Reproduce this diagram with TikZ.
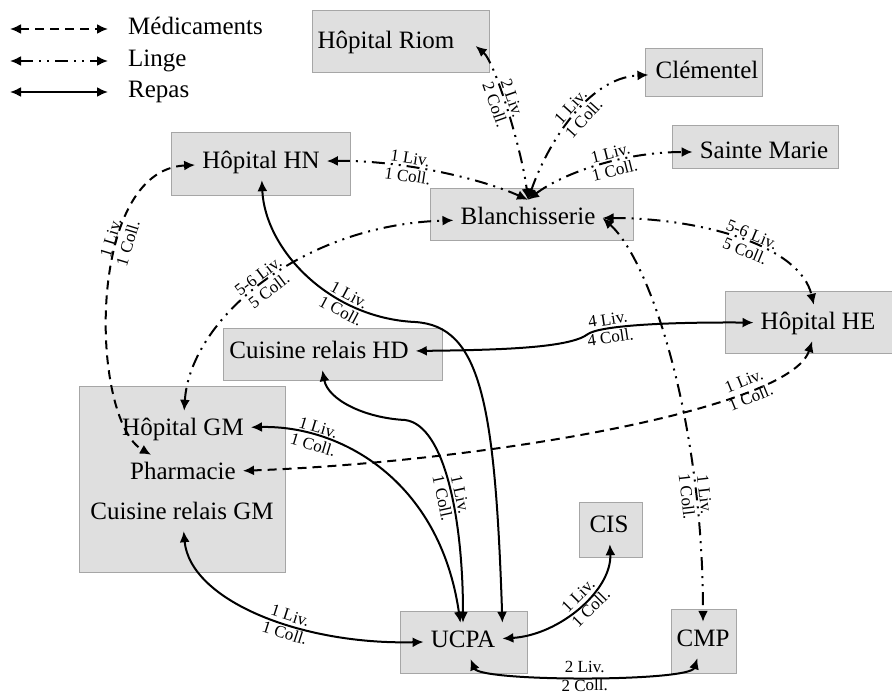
\documentclass[tikz,border=0pt]{standalone}
\usepackage{fontspec}
\setmainfont{Liberation Serif}
\usepackage{tikz}
\usetikzlibrary{arrows.meta}
\tikzset{
  boite/.style={draw=gray!70, fill=gray!25, line width=0.8pt, inner sep=0pt},
  txt/.style={inner sep=7pt, text height=17pt, text depth=5pt, font=\fontsize{25}{30}\selectfont},
  lien/.style={line width=2pt, {Latex[length=11pt,width=10pt]}-{Latex[length=11pt,width=10pt]}},
  medic/.style={lien, dash pattern=on 9pt off 6pt},
  linge/.style={lien, dash pattern=on 13pt off 6pt on 2pt off 6pt on 2pt off 6pt},
  repas/.style={lien},
  etiq/.style={sloped, inner sep=2pt, font=\fontsize{17}{19}\selectfont}
}
\begin{document}
\begin{tikzpicture}[x=1pt,y=-1pt]
  \useasboundingbox (0,0) rectangle (892,697);
  % legende
  \coordinate (m1) at (10,29);  \coordinate (m2) at (108,29);
  \coordinate (l1) at (10,61);  \coordinate (l2) at (108,61);
  \coordinate (r1) at (10,92);  \coordinate (r2) at (108,92);
  \node[txt, anchor=west] (lmed) at (121,28) {Médicaments};
  \node[txt, anchor=west] (llin) at (121,60) {Linge};
  \node[txt, anchor=west] (lrep) at (121,91) {Repas};
  \draw[medic] (m1) -- (m2);
  \draw[linge] (l1) -- (l2);
  \draw[repas] (r1) -- (r2);
  % boites
  \node[boite, minimum width=177pt, minimum height=62pt] (riomB) at (400.5,41) {};
  \node[boite, minimum width=117pt, minimum height=48pt] (clemB) at (703.5,72.5) {};
  \node[boite, minimum width=179pt, minimum height=63pt] (hnB) at (260.5,163.5) {};
  \node[boite, minimum width=166pt, minimum height=43pt] (smB) at (755,146.5) {};
  \node[boite, minimum width=203pt, minimum height=52pt] (blanchB) at (531.5,214) {};
  \node[boite, minimum width=167pt, minimum height=62pt] (heB) at (808.5,322) {};
  \node[boite, minimum width=219pt, minimum height=52pt] (hdB) at (332.5,354) {};
  \node[boite, minimum width=206pt, minimum height=186pt] (gmB) at (182,479) {};
  \node[boite, minimum width=63pt, minimum height=55pt] (cisB) at (610.5,529.5) {};
  \node[boite, minimum width=127pt, minimum height=62pt] (ucpaB) at (463.5,642) {};
  \node[boite, minimum width=65pt, minimum height=64pt] (cmpB) at (703.5,641) {};
  % textes
  \node[txt] (riom) at (386,42) {Hôpital Riom};
  \node[txt] (clem) at (707,72) {Clémentel};
  \node[txt] (hn) at (261,162) {Hôpital HN};
  \node[txt] (sm) at (764,152) {Sainte Marie};
  \node[txt] (blanch) at (528,218) {Blanchisserie};
  \node[txt] (he) at (818,323) {Hôpital HE};
  \node[txt] (hd) at (319,352) {Cuisine relais HD};
  \node[txt] (hgm) at (183,429) {Hôpital GM};
  \node[txt] (pharma) at (183,473) {Pharmacie};
  \node[txt] (crgm) at (182,513) {Cuisine relais GM};
  \node[txt] (cis) at (609,526) {CIS};
  \node[txt] (ucpa) at (463,641) {UCPA};
  \node[txt] (cmp) at (703,640) {CMP};
  % medicaments
  \draw[medic] (hn) .. controls (85,170) and (90,420) .. (pharma)
    node[etiq, pos=.35, above] {1 Liv.} node[etiq, pos=.35, below] {1 Coll.};
  \draw[medic] (he) .. controls (790,410) and (480,462) .. (pharma)
    node[etiq, pos=.25, above] {1 Liv.} node[etiq, pos=.25, below] {1 Coll.};
  % linge
  \draw[linge] ([xshift=14pt,yshift=-4pt]riom.east) .. controls (495,62) and (522,150) .. (blanch.north)
    node[etiq, pos=.45, above] {2 Liv.} node[etiq, pos=.45, below] {2 Coll.};
  \draw[linge] (blanch.north) .. controls (545,150) and (585,78) .. (clem)
    node[etiq, pos=.55, above] {1 Liv.} node[etiq, pos=.55, below] {1 Coll.};
  \draw[linge] (blanch.north) .. controls (560,175) and (620,152) .. (sm)
    node[etiq, pos=.6, above] {1 Liv.} node[etiq, pos=.6, below] {1 Coll.};
  \draw[linge] (hn) .. controls (400,160) and (480,178) .. (blanch.north)
    node[etiq, pos=.37, above] {1 Liv.} node[etiq, pos=.37, below] {1 Coll.};
  \draw[linge] (blanch) .. controls (700,218) and (800,245) .. (he)
    node[etiq, pos=.54, above] {5-6 Liv.} node[etiq, pos=.54, below] {5 Coll.};
  \draw[linge] (hgm) .. controls (190,320) and (300,225) .. (blanch)
    node[etiq, pos=.5, above] {5-6 Liv.} node[etiq, pos=.5, below] {5 Coll.};
  \draw[linge] (blanch.east) .. controls (650,260) and (703,420) .. (cmp)
    node[etiq, pos=.78, above] {1 Liv.} node[etiq, pos=.78, below] {1 Coll.};
  % repas
  \draw[repas] (hn) .. controls (265,250) and (330,318) .. (415,322)
    node[etiq, pos=.7, above] {1 Liv.} node[etiq, pos=.7, below] {1 Coll.}
    .. controls (480,326) and (495,400) .. (ucpa.north east);
  \draw[repas] (hd) .. controls (328,400) and (365,418) .. (405,420)
    .. controls (445,425) and (463,520) .. (ucpa)
    node[etiq, pos=.55, above] {1 Liv.} node[etiq, pos=.55, below] {1 Coll.};
  \draw[repas] (hgm) .. controls (340,425) and (440,480) .. (ucpa)
    node[etiq, pos=.24, above] {1 Liv.} node[etiq, pos=.24, below] {1 Coll.};
  \draw[repas] (crgm) .. controls (190,600) and (300,645) .. (ucpa)
    node[etiq, pos=.6, above] {1 Liv.} node[etiq, pos=.6, below] {1 Coll.};
  \draw[repas] (ucpa) .. controls (560,635) and (612,590) .. (cis)
    node[etiq, pos=.55, above] {1 Liv.} node[etiq, pos=.55, below] {1 Coll.};
  \draw[repas] (ucpa) .. controls (480,682) and (690,682) .. (cmp)
    node[etiq, pos=.5, above] {2 Liv.} node[etiq, pos=.5, below] {2 Coll.};
  \draw[repas] (hd) .. controls (500,350) and (570,348) .. (588,334)
    .. controls (600,326) and (660,322) .. (he)
    node[etiq, pos=.28, above] {4 Liv.} node[etiq, pos=.28, below] {4 Coll.};
\end{tikzpicture}
\end{document}
